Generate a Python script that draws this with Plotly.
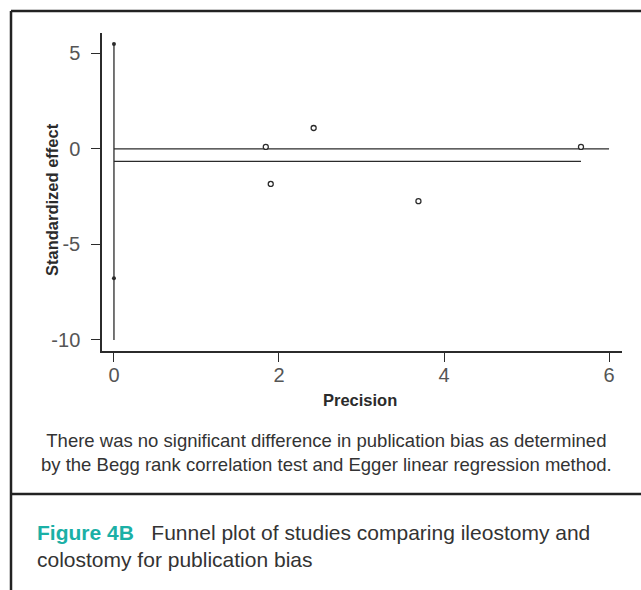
import plotly.graph_objects as go

# ---- data ----
precision = [1.84, 2.42, 1.90, 3.69, 5.66]
std_effect = [0.10, 1.09, -1.84, -2.74, 0.10]
ci_x = [0, 0]
ci_points = [5.49, -6.77]
ci_line = [-10, 5.49]
null_line_x = [0, 6]
null_line_y = [0, 0]
egger_x = [0, 5.66]
egger_y = [-0.66, -0.66]
x_ticks = [0, 2, 4, 6]
x_labels = ["0", "2", "4", "6"]
y_ticks = [5, 0, -5, -10]
y_labels = ["5", "0", "-5", "-10"]

W, H = 641, 590
L, R, T, B = 102, 622, 33, 351  # plot area pixels


def px(x):
    return (x - L) / (R - L)


def py(y):
    return (B - y) / (B - T)


ink = "#2b2b2b"
fig = go.Figure()
fig.add_trace(go.Scatter(x=[0, 0], y=ci_line, mode="lines",
                         line=dict(color=ink, width=1.3), hoverinfo="skip"))
fig.add_trace(go.Scatter(x=null_line_x, y=null_line_y, mode="lines",
                         line=dict(color=ink, width=1.3), hoverinfo="skip"))
fig.add_trace(go.Scatter(x=egger_x, y=egger_y, mode="lines",
                         line=dict(color=ink, width=1.3), hoverinfo="skip"))
fig.add_trace(go.Scatter(x=ci_x, y=ci_points, mode="markers",
                         marker=dict(size=4, color=ink)))
fig.add_trace(go.Scatter(x=precision, y=std_effect, mode="markers",
                         marker=dict(size=5, color="white", symbol="circle",
                                     line=dict(color=ink, width=1.3))))

tickfont = dict(family="Liberation Sans, Arial, sans-serif", size=20, color="#555")
titlefont = dict(family="Liberation Sans, Arial, sans-serif", size=16.5, color=ink)

fig.update_layout(
    width=W, height=H, showlegend=False,
    margin=dict(l=L, r=W - R, t=T, b=H - B),
    plot_bgcolor="white", paper_bgcolor="white",
    xaxis=dict(range=[-0.145, 6.157], tickvals=x_ticks, ticktext=x_labels, ticks="outside", ticklen=9,
               tickcolor=ink, tickwidth=1.2, showline=True, linecolor=ink, linewidth=1.5,
               showgrid=False, zeroline=False, tickfont=tickfont, fixedrange=True,
               ticklabelstandoff=-4),
    yaxis=dict(range=[-10.58, 6.06], tickvals=y_ticks, ticktext=y_labels, ticks="outside", ticklen=9,
               tickcolor=ink, tickwidth=1.2, showline=True, linecolor=ink, linewidth=1.5,
               showgrid=False, zeroline=False, tickfont=tickfont, fixedrange=True,
               ticklabelstandoff=7),
)

# axis titles
fig.add_annotation(x=px(360), y=py(400), xref="paper", yref="paper", showarrow=False,
                   text="<b>Precision</b>", font=titlefont, xanchor="center", yanchor="middle")
fig.add_annotation(x=px(52), y=py(200), xref="paper", yref="paper", showarrow=False,
                   text="<b>Standardized effect</b>", font=titlefont, textangle=-90,
                   xanchor="center", yanchor="middle")

# footnote
footfont = dict(family="Liberation Sans, Arial, sans-serif", size=18.5, color="#333")
fig.add_annotation(x=px(326), y=py(452), xref="paper", yref="paper", showarrow=False,
                   text="There was no significant difference in publication bias as determined<br>"
                        "by the Begg rank correlation test and Egger linear regression method.",
                   font=footfont, align="center", xanchor="center", yanchor="middle")

# caption
capfont = dict(family="Liberation Sans, Arial, sans-serif", size=21, color="#333")
fig.add_annotation(x=px(35), y=py(546), xref="paper", yref="paper", showarrow=False,
                   text="<span style='color:#1bb0a6'><b>Figure 4B</b></span>&nbsp;&nbsp;&nbsp;"
                        "Funnel plot of studies comparing ileostomy and<br>"
                        "colostomy for publication bias",
                   font=capfont, align="left", xanchor="left", yanchor="middle")

# frame lines
frame = dict(color="#222", width=2.5)
fig.add_shape(type="line", xref="paper", yref="paper", x0=px(11), x1=px(641), y0=py(11), y1=py(11), line=frame)
fig.add_shape(type="line", xref="paper", yref="paper", x0=px(11), x1=px(11), y0=py(11), y1=py(590), line=frame)
fig.add_shape(type="line", xref="paper", yref="paper", x0=px(11), x1=px(641), y0=py(494), y1=py(494), line=frame)

fig.write_html("out.html", config={"displayModeBar": False})
